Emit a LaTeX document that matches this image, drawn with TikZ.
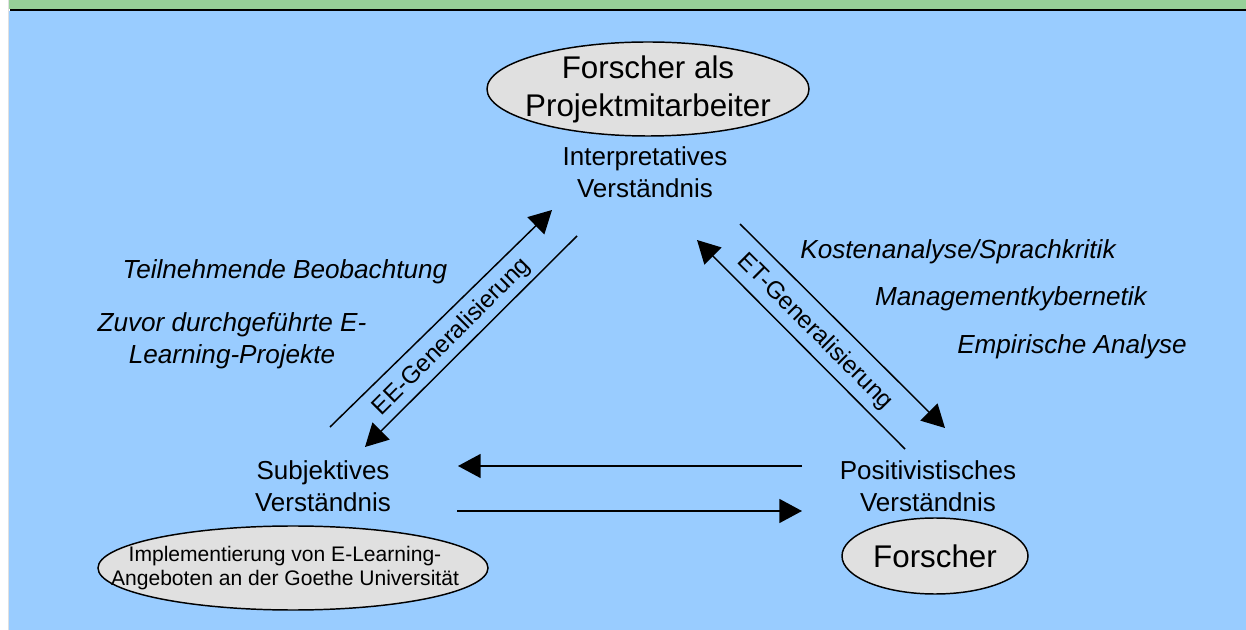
\documentclass[tikz,border=0pt]{standalone}
\usepackage{fontspec}
\setmainfont{Liberation Sans}
\usetikzlibrary{shapes,arrows.meta,positioning}

\definecolor{paneblue}{RGB}{153,204,255}
\definecolor{bargreen}{RGB}{150,208,152}
\definecolor{ovalgrey}{RGB}{224,224,224}

\begin{document}
\begin{tikzpicture}[%
	x=0.75pt, y=-0.75pt,         % one unit is one pixel of the slide
	every node/.style={font=\fontsize{19.5}{24}\selectfont, align=center},
	>={Triangle[length=17pt, width=18pt]}, % big filled heads
	]
	% -------------------------------------------------
	% Styles for the ovals, the labels and the arrows
	\tikzset{
		oval/.style={draw, fill=ovalgrey, ellipse, inner sep=0pt, line width=1.1pt},
		bigtext/.style={font=\fontsize{23.5}{28.5}\selectfont, align=center},
		smalltext/.style={font=\fontsize{15.8}{18}\selectfont, align=center},
		method/.style={font=\fontsize{19.6}{24}\selectfont\itshape},
		gen/.style={font=\fontsize{18.2}{22}\selectfont},
		link/.style={->, draw, line width=1.1pt},
	}
	% -------------------------------------------------
	% Slide background
	\useasboundingbox (0,0) rectangle (1246,630);
	\fill[paneblue] (9,11) rectangle (1246,630);
	\fill[bargreen] (9,0) rectangle (1246,9.5);
	\draw[line width=1.5pt] (10,10.5) -- (1246,10.5);
	\draw[black!12, line width=1pt] (8.5,0) -- (8.5,630);

	% -------------------------------------------------
	% The three corners
	\node[oval, minimum width=241.5pt, minimum height=70.5pt,
		label={[bigtext]center:{Forscher als\\Projektmitarbeiter}}] (fpm) at (648,89) {};
	\node (interp) at (645,172) {Interpretatives\\Verständnis};

	\node (subj) at (323,486) {Subjektives\\Verständnis};
	\node[oval, minimum width=292.5pt, minimum height=63pt,
		label={[smalltext, xshift=-6pt]center:{Implementierung von E-Learning-\\Angeboten an der Goethe Universität}}] (impl) at (293,568) {};

	\node (posit) at (928,486) {Positivistisches\\Verständnis};
	\node[oval, minimum width=139.5pt, minimum height=57pt,
		label={[bigtext]center:Forscher}] (fo) at (935,556) {};

	% -------------------------------------------------
	% Methods beside the arrows
	\node[method] (tb) at (285,272) {Teilnehmende Beobachtung};
	\node[method] (zdp) at (232,341) {Zuvor durchgeführte E-\\Learning-Projekte};
	\node[method] (ksk) at (958,252) {Kostenanalyse/Sprachkritik};
	\node[method] (mk) at (1011,299) {Managementkybernetik};
	\node[method] (ea) at (1072,347) {Empirische Analyse};

	\node[gen, rotate=45] (eeg) at (452,337) {EE-Generalisierung};
	\node[gen, rotate=-45] (etg) at (815,332) {ET-Generalisierung};

	% -------------------------------------------------
	% End points of the arrows
	\coordinate (ee up s) at (330,427);   \coordinate (ee up e) at (552,210);
	\coordinate (ee dn s) at (577,236);   \coordinate (ee dn e) at (365,447);
	\coordinate (et dn s) at (740,224);   \coordinate (et dn e) at (945,428);
	\coordinate (et up s) at (905,449);   \coordinate (et up e) at (697,240);
	\coordinate (ps s) at (802,466);      \coordinate (ps e) at (458,466);
	\coordinate (sp s) at (457,511);      \coordinate (sp e) at (802,511);

	\draw[link] (ee up s) -- (ee up e);
	\draw[link] (ee dn s) -- (ee dn e);
	\draw[link] (et dn s) -- (et dn e);
	\draw[link] (et up s) -- (et up e);
	\draw[link] (ps s) -- (ps e);
	\draw[link] (sp s) -- (sp e);

\end{tikzpicture}
\end{document}
